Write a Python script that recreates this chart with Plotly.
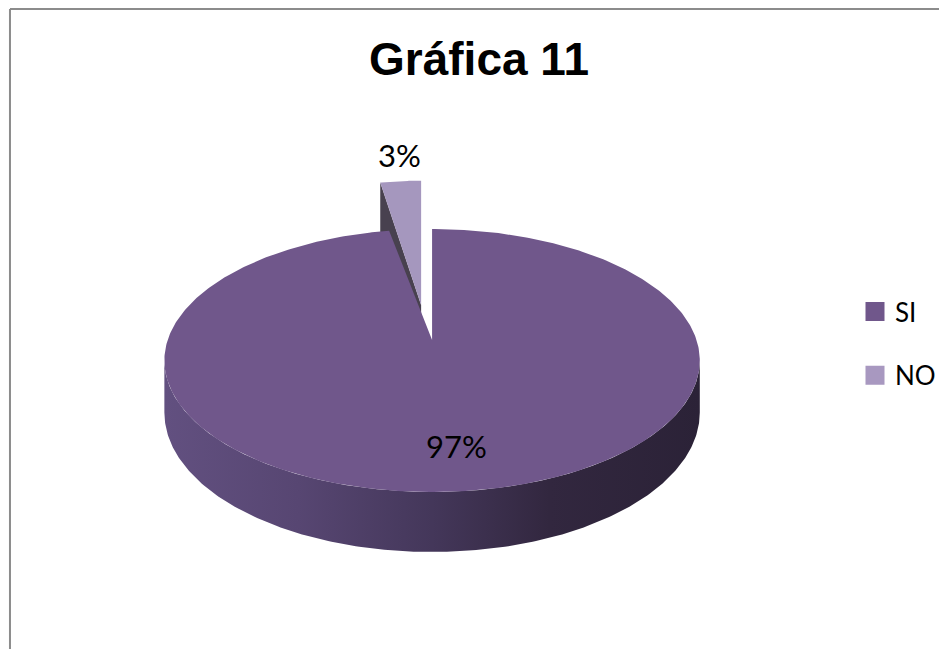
import math
import plotly.graph_objects as go

# ---- data -------------------------------------------------------------
categories = ["SI", "NO"]
values = [97, 3]
top_colors = ["#70578B", "#A597BE"]
legend_colors = ["#70578B", "#A898C0"]

total = sum(values)
pct_labels = [f"{round(100 * v / total)}%" for v in values]

# ---- 3-D pie geometry (screen pixels) ---------------------------------
W, H_FIG = 941, 649
CX, CY = 433, 340          # pie centre on the top face
RX, RY = 265, 128.3        # horizontal / vertical radius
K = 0.156                  # perspective strength
DEPTH = 50.6               # thickness of the disc
SIDE_FROM = math.degrees(math.acos(-K))   # silhouette angle of the rim

# exploded slice placement
EXPLODE = {"NO": dict(cx=422, cy=305, sx=0.95, sy=1.12)}


def proj(theta_deg, r, z, cx=CX, cy=CY, sx=1.0, sy=1.0):
    """Project a point of the disc (angle clockwise from 12 o'clock)."""
    t = math.radians(theta_deg)
    u, v = r * math.sin(t), r * math.cos(t)
    d = 1 + K * v
    return cx + sx * RX * u / d, cy + sy * (-RY * v + DEPTH * z) / d


def arc(a0, a1, z, n=240, **kw):
    pts = [proj(a0 + (a1 - a0) * i / n, 1, z, **kw) for i in range(n + 1)]
    return [p[0] for p in pts], [p[1] for p in pts]


# slice angles, first slice starting at 12 o'clock going clockwise
angles = []
acc = 0.0
for v in values:
    a0 = acc
    acc += 360.0 * v / total
    angles.append((a0, acc))

fig = go.Figure()

# exploded slices first (they sit behind the main slice)
for name, (a0, a1), col in zip(categories, angles, top_colors):
    if name not in EXPLODE:
        continue
    kw = EXPLODE[name]
    # visible radial face (left cut)
    p1 = proj(a0, 0, 0, **kw)
    p2 = proj(a0, 1, 0, **kw)
    p3 = proj(a0, 1, 1, **kw)
    p4 = proj(a0, 0, 1, **kw)
    fig.add_trace(go.Scatter(
        x=[p1[0], p2[0], p3[0], p4[0], p1[0]],
        y=[p1[1], p2[1], p3[1], p4[1], p1[1]],
        fill="toself", mode="lines", line=dict(width=0),
        fillcolor="#48414F", hoverinfo="skip", showlegend=False))
    # top face
    ax, ay = arc(a0, a1, 0, n=40, **kw)
    c = proj(0, 0, 0, **kw)
    fig.add_trace(go.Scatter(
        x=[c[0]] + ax + [c[0]], y=[c[1]] + ay + [c[1]],
        fill="toself", mode="lines", line=dict(width=0),
        fillcolor=col, hoverinfo="skip", showlegend=False))

# main slices: rim then top face
for name, (a0, a1), col in zip(categories, angles, top_colors):
    if name in EXPLODE:
        continue
    s0, s1 = max(a0, SIDE_FROM), min(a1, 360 - SIDE_FROM)
    if s1 > s0:
        tx, ty = arc(s0, s1, 0)
        bx, by = arc(s1, s0, 1)
        xs = tx + bx + [tx[0]]
        ys = ty + by + [ty[0]]
        fig.add_trace(go.Scatter(
            x=xs, y=ys, fill="toself", mode="lines", line=dict(width=0),
            fillgradient=dict(
                type="horizontal", start=min(xs), stop=max(xs),
                colorscale=[[0.0, "#625080"], [0.25, "#574672"],
                            [0.5, "#44375A"], [0.72, "#32273F"],
                            [1.0, "#2B2237"]]),
            hoverinfo="skip", showlegend=False))
    ax, ay = arc(a0, a1, 0, n=480)
    fig.add_trace(go.Scatter(
        x=[CX] + ax + [CX], y=[CY] + ay + [CY],
        fill="toself", mode="lines", line=dict(width=0),
        fillcolor=col, hoverinfo="skip", showlegend=False))

# legend entries
for name, col in zip(categories, legend_colors):
    fig.add_trace(go.Scatter(
        x=[None], y=[None], mode="markers", name=name, legendgroup=name,
        marker=dict(symbol="square", size=16, color=col,
                    line=dict(color=col, width=3))))

# percentage labels
label_pos = {"SI": (457, 446), "NO": (400, 155)}
for name, txt in zip(categories, pct_labels):
    lx, ly = label_pos[name]
    fig.add_annotation(x=lx, y=ly, xref="x", yref="y", text=txt,
                       showarrow=False, xanchor="center", yanchor="middle",
                       font=dict(family="Lato", size=31, color="#000000"))

# chart frame
frame = dict(color="#8C8C8C", width=2)
fig.add_shape(type="line", xref="paper", yref="paper", x0=10 / W, x1=1,
              y0=1 - 9 / H_FIG, y1=1 - 9 / H_FIG, line=frame)
fig.add_shape(type="line", xref="paper", yref="paper", x0=10 / W, x1=10 / W,
              y0=0, y1=1 - 9 / H_FIG, line=frame)

fig.update_layout(
    width=W, height=H_FIG,
    margin=dict(l=0, r=0, t=0, b=0),
    paper_bgcolor="white", plot_bgcolor="white",
    xaxis=dict(range=[0, W], visible=False, fixedrange=True),
    yaxis=dict(range=[H_FIG, 0], visible=False, fixedrange=True),
    title=dict(text="<b>Gráfica 11</b>", x=479 / W, xanchor="center",
               y=1 - 58.5 / H_FIG, yanchor="middle", yref="paper",
               font=dict(family="Liberation Sans", size=46, color="#000000")),
    legend=dict(x=857 / W, xanchor="left", y=1 - 288 / H_FIG, yanchor="top",
                font=dict(family="Lato", size=26, color="#000000"),
                tracegroupgap=27, bgcolor="rgba(0,0,0,0)"),
    showlegend=True,
)

fig.write_html("out.html")
